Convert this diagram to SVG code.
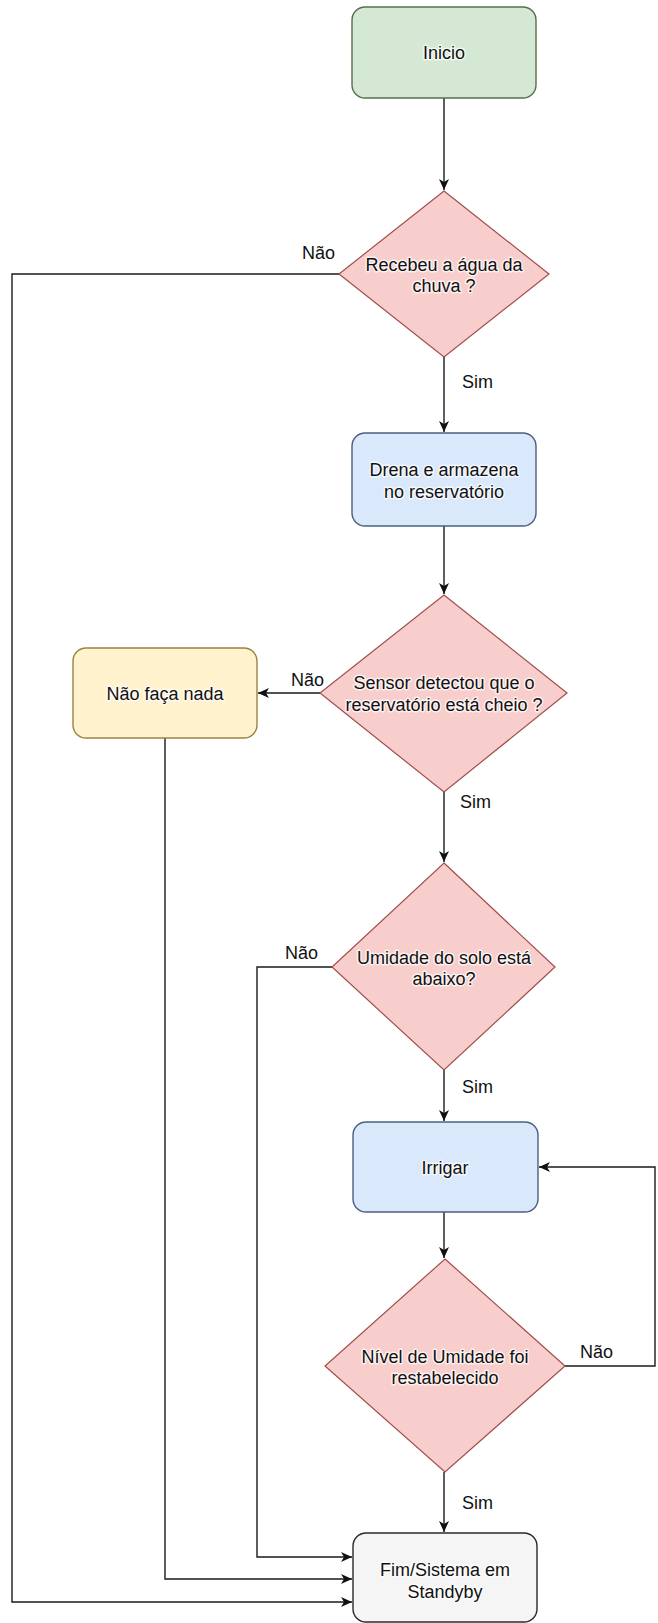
<svg xmlns="http://www.w3.org/2000/svg" width="658" height="1623" viewBox="0 0 658 1623">
<style>
.node text{font-family:"Liberation Sans",Arial,sans-serif;font-size:18px;fill:#111;text-anchor:middle;stroke:#fff;stroke-width:3px;stroke-opacity:0.7;paint-order:stroke;stroke-linejoin:round}
.lbl{font-family:"Liberation Sans",Arial,sans-serif;font-size:18px;fill:#111}
.edge{fill:none;stroke:#1a1a1a;stroke-width:1.4}
.start{fill:#d5e8d4;stroke:#55704c;stroke-width:1.4}
.proc{fill:#dae8fc;stroke:#4c5f80;stroke-width:1.4}
.dec{fill:#f8cecc;stroke:#a04e4b;stroke-width:1.2}
.idle{fill:#fff2cc;stroke:#9a8442;stroke-width:1.4}
.end{fill:#f5f5f5;stroke:#2a2a2a;stroke-width:1.4}
</style>
<defs>
<marker id="arr" markerWidth="12" markerHeight="10" refX="11" refY="5" orient="auto" markerUnits="userSpaceOnUse">
<path d="M0,0 L11,5 L0,10 L3,5 Z" fill="#111"/>
</marker>
</defs>
<rect width="658" height="1623" fill="#fff"/>
<g id="connectors">
<path class="edge" d="M444,98 L444,190" marker-end="url(#arr)"/>
<path class="edge" d="M444,357 L444,432" marker-end="url(#arr)"/>
<path class="edge" d="M444,526 L444,594" marker-end="url(#arr)"/>
<path class="edge" d="M320,693 L258,693" marker-end="url(#arr)"/>
<path class="edge" d="M444,792 L444,862" marker-end="url(#arr)"/>
<path class="edge" d="M444,1070 L444,1121" marker-end="url(#arr)"/>
<path class="edge" d="M444,1212 L444,1258" marker-end="url(#arr)"/>
<path class="edge" d="M444,1472 L444,1532" marker-end="url(#arr)"/>
<path class="edge" d="M565,1366 L655,1366 L655,1167 L539,1167" marker-end="url(#arr)"/>
<path class="edge" d="M339,274 L12,274 L12,1602 L352,1602" marker-end="url(#arr)"/>
<path class="edge" d="M165,738 L165,1579 L352,1579" marker-end="url(#arr)"/>
<path class="edge" d="M332,967 L257,967 L257,1557 L352,1557" marker-end="url(#arr)"/>
<text class="lbl" x="302" y="259">Não</text>
<text class="lbl" x="462" y="388">Sim</text>
<text class="lbl" x="291" y="686">Não</text>
<text class="lbl" x="460" y="808">Sim</text>
<text class="lbl" x="285" y="959">Não</text>
<text class="lbl" x="462" y="1093">Sim</text>
<text class="lbl" x="580" y="1358">Não</text>
<text class="lbl" x="462" y="1509">Sim</text>
</g>
<g id="inicio" class="node">
<rect class="start" x="352" y="7" width="184" height="91" rx="13"/>
<text x="444" y="59">Inicio</text>
</g>
<g id="recebeu" class="node">
<polygon class="dec" points="444,191 549,274 444,357 339,274"/>
<text x="444" y="271">Recebeu a água da</text>
<text x="444" y="292">chuva ?</text>
</g>
<g id="drena" class="node">
<rect class="proc" x="352" y="433" width="184" height="93" rx="13"/>
<text x="444" y="476">Drena e armazena</text>
<text x="444" y="498">no reservatório</text>
</g>
<g id="sensor" class="node">
<polygon class="dec" points="444,595 567,693 444,792 320,693"/>
<text x="444" y="689">Sensor detectou que o</text>
<text x="444" y="711">reservatório está cheio ?</text>
</g>
<g id="nada" class="node">
<rect class="idle" x="73" y="648" width="184" height="90" rx="13"/>
<text x="165" y="700">Não faça nada</text>
</g>
<g id="umidade" class="node">
<polygon class="dec" points="444,863 555,967 444,1070 332,967"/>
<text x="444" y="964">Umidade do solo está</text>
<text x="444" y="985">abaixo?</text>
</g>
<g id="irrigar" class="node">
<rect class="proc" x="353" y="1122" width="185" height="90" rx="13"/>
<text x="445" y="1174">Irrigar</text>
</g>
<g id="nivel" class="node">
<polygon class="dec" points="445,1259 565,1366 445,1472 325,1366"/>
<text x="445" y="1363">Nível de Umidade foi</text>
<text x="445" y="1384">restabelecido</text>
</g>
<g id="fim" class="node">
<rect class="end" x="353" y="1533" width="184" height="89" rx="13"/>
<text x="445" y="1576">Fim/Sistema em</text>
<text x="445" y="1598">Standyby</text>
</g>
</svg>
